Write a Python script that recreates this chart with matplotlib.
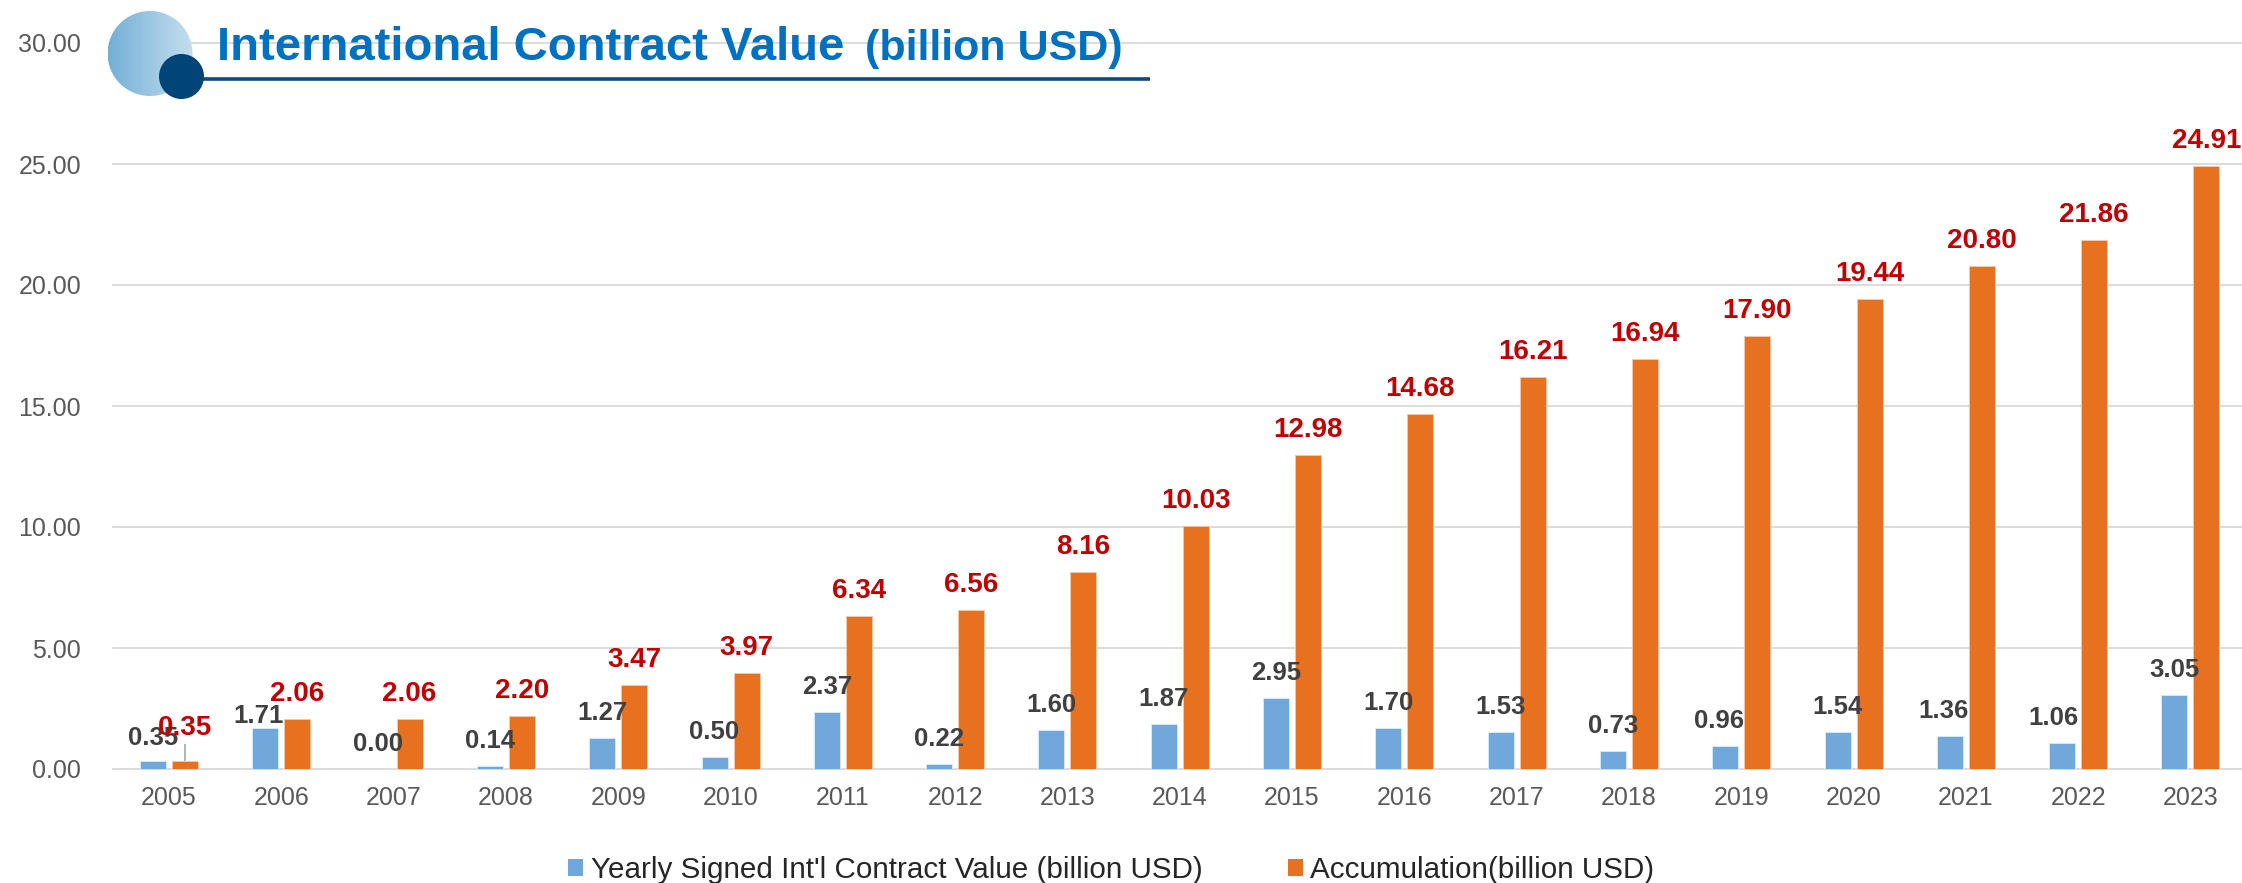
import numpy as np
import matplotlib
matplotlib.use("Agg")
import matplotlib.pyplot as plt
from matplotlib.patches import Patch, Circle
from matplotlib.colors import LinearSegmentedColormap

years = ["2005", "2006", "2007", "2008", "2009", "2010", "2011", "2012", "2013", "2014",
         "2015", "2016", "2017", "2018", "2019", "2020", "2021", "2022", "2023"]
yearly = [0.35, 1.71, 0.00, 0.14, 1.27, 0.50, 2.37, 0.22, 1.60, 1.87,
          2.95, 1.70, 1.53, 0.73, 0.96, 1.54, 1.36, 1.06, 3.05]
accum = [0.35, 2.06, 2.06, 2.20, 3.47, 3.97, 6.34, 6.56, 8.16, 10.03,
         12.98, 14.68, 16.21, 16.94, 17.90, 19.44, 20.80, 21.86, 24.91]
yticks = [0, 5, 10, 15, 20, 25, 30]
series_names = ["Yearly Signed Int'l Contract Value (billion USD)", "Accumulation(billion USD)"]
title_main = "International Contract Value"
title_unit = "(billion USD)"

plt.rcParams['font.family'] = ['Liberation Sans', 'DejaVu Sans']

W, H = 2242, 883
DPI = 100
fig = plt.figure(figsize=(W / DPI, H / DPI), dpi=DPI)
fig.patch.set_facecolor('white')

# main axes in pixel placement
left_px, right_px, y0_px, y30_px = 113, 2242, 769, 43
ax = fig.add_axes([left_px / W, (H - y0_px) / H, (right_px - left_px) / W, (y0_px - y30_px) / H])

BLUE = '#71A8DB'
ORANGE = '#E8711F'
spacing = 112.3
x = np.arange(len(years))
bw = 26 / spacing
off = 16 / spacing

ax.bar(x - off, yearly, width=bw, color=BLUE, edgecolor='#DCEAF6', linewidth=0.6, zorder=3)
ax.bar(x + off, accum, width=bw, color=ORANGE, edgecolor='#F6C9A8', linewidth=0.6, zorder=3)

ax.set_xlim((left_px - 169) / spacing, (right_px - 169) / spacing)
ax.set_ylim(0, 30)
ax.set_yticks(yticks)
ax.set_yticklabels([f"{v:.2f}" for v in yticks])
ax.set_xticks(x)
ax.set_xticklabels(years)
ax.tick_params(axis='both', length=0, labelsize=18, labelcolor='#595959')
ax.tick_params(axis='y', pad=23)
ax.tick_params(axis='x', pad=12)
for s in ax.spines.values():
    s.set_visible(False)
ax.yaxis.grid(True, color='#D9D9D9', linewidth=1.3, zorder=0)
ax.set_axisbelow(True)
for gl in ax.get_ygridlines():
    gl.set_clip_on(False)

px2pt = 72 / DPI
# small manual nudges of some yearly labels (pixels), as in the reference
blue_dx = {1: -7, 14: -6, 16: -6, 17: -9}
# data labels
for i, (b, a) in enumerate(zip(yearly, accum)):
    bgap = 18
    agap = 18
    if i == 0:
        bgap, agap = 16, 26
    if i == 1:
        bgap = 5
    bdx = blue_dx.get(i, 0)
    ax.annotate(f"{b:.2f}", (x[i] - off, b), xytext=(bdx * px2pt, bgap * px2pt),
                textcoords='offset points', ha='center', va='baseline',
                fontsize=18.5, fontweight='bold', color='#404040', zorder=4)
    ax.annotate(f"{a:.2f}", (x[i] + off, a), xytext=(0, agap * px2pt),
                textcoords='offset points', ha='center', va='baseline',
                fontsize=20, fontweight='bold', color='#C00000', zorder=5)
# leader line for 2005 accumulation label
ax.annotate("", (x[0] + off, accum[0]), xytext=(0, 16 * px2pt), textcoords='offset points',
            arrowprops=dict(arrowstyle='-', color='#A6A6A6', lw=1.2, shrinkA=0, shrinkB=0), zorder=4)

# legend
handles = [Patch(facecolor=BLUE, edgecolor='none'), Patch(facecolor=ORANGE, edgecolor='none')]
fig.legend(handles, series_names, loc='center', bbox_to_anchor=(1111.5 / W, 1 - 870 / H),
           ncol=2, frameon=False, fontsize=21.3, labelcolor='#262626',
           handlelength=0.5, handleheight=0.5, handletextpad=0.25, columnspacing=2.9,
           borderpad=0, borderaxespad=0)

# decoration / title overlay in pixel coordinates
ov = fig.add_axes([0, 0, 1, 1])
ov.set_zorder(10)
ov.axis('off')
big = Circle((150, 53.5), 42.5, facecolor='none', edgecolor='none')
ov.add_patch(big)
cmap = LinearSegmentedColormap.from_list('g', ['#74AFD6', '#C4DFEF'])
im = ov.imshow(np.linspace(0, 1, 256).reshape(1, -1), cmap=cmap, aspect='auto',
               extent=(107.5, 192.5, 96, 11), interpolation='bilinear')
im.set_clip_path(big)
ov.plot([190, 1150], [79, 79], color='#0A4A80', lw=2.6, solid_capstyle='butt')
ov.add_patch(Circle((181.5, 76.5), 22.5, facecolor='#004478', edgecolor='none', zorder=5))
ov.text(217, 60, title_main, fontsize=34, fontweight='bold', color='#0070C0', va='baseline', ha='left')
ov.text(865, 60, title_unit, fontsize=31, fontweight='bold', color='#0070C0', va='baseline', ha='left')
ov.set_xlim(0, W)
ov.set_ylim(H, 0)

fig.savefig('out.png', dpi=DPI)
